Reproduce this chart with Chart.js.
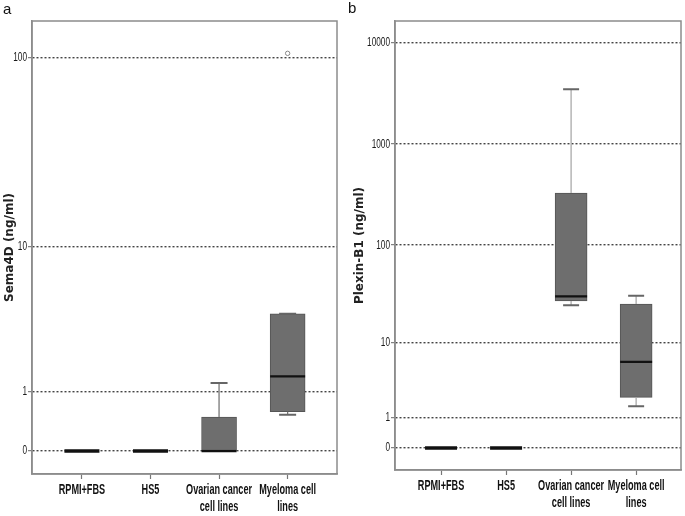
<!DOCTYPE html>
<html>
<head>
<meta charset="utf-8">
<title>Sema4D and Plexin-B1</title>
<script src="https://cdn.jsdelivr.net/npm/chart.js@4"></script>
<style>
  body { margin: 0; background: #fff; }
  #wrap { position: relative; width: 685px; height: 516px; overflow: hidden; }
  .panel { position: absolute; top: 0; height: 516px; }
  .tag { position: absolute; font: 15px "Liberation Sans", Arial, sans-serif; line-height: 15px; color: #111; }
</style>
</head>
<body>
<div id="wrap">
  <div class="panel" style="left:0;width:343px"><canvas id="chartA" width="343" height="516"></canvas></div>
  <div class="panel" style="left:343px;width:342px"><canvas id="chartB" width="342" height="516"></canvas></div>
  <div class="tag" style="left:3px;top:1px">a</div>
  <div class="tag" style="left:348px;top:0px">b</div>
</div>
<script>
const categories = [['RPMI+FBS'], ['HS5'], ['Ovarian cancer', 'cell lines'], ['Myeloma cell', 'lines']];

// panel a - Sema4D (ng/ml)
const semaLow      = [0, 0, 0,    0.53];
const semaQ1       = [0, 0, 0,    0.585];
const semaMedian   = [0, 0, 0,    1.40];
const semaQ3       = [0, 0, 0.49, 4.0];
const semaHigh     = [0, 0, 1.22, 4.0];
const semaOutliers = [[], [], [], [105]];
const semaTicks    = [0, 1, 10, 100];

// panel b - Plexin-B1 (ng/ml)
const plexLow      = [0, 0, 24.7, 1.58];
const plexQ1       = [0, 0, 27.3, 2.16];
const plexMedian   = [0, 0, 30.5, 6.1];
const plexQ3       = [0, 0, 329,  25.4];
const plexHigh     = [0, 0, 3490, 30.9];
const plexOutliers = [[], [], [], []];
const plexTicks    = [0, 1, 10, 100, 1000, 10000];

// axis is log10(value + 1) so that 0 can be shown
const tf = v => Math.log10(v + 1);

const sans = '"Liberation Sans", Arial, sans-serif';

// no narrow font installed, so tick labels are squeezed by hand
function squeezed(ctx, text, x, y, font, sx, align) {
  ctx.save();
  ctx.translate(x, y);
  ctx.scale(sx, 1);
  ctx.font = font;
  ctx.textAlign = align;
  ctx.textBaseline = 'middle';
  ctx.fillText(text, 0, 0);
  ctx.restore();
}

function boxParts(s) {
  return {
    id: 'boxParts',
    beforeDatasetsDraw(chart) {
      const { ctx, chartArea: a } = chart;
      ctx.save();
      ctx.strokeStyle = '#8c8c8c';
      ctx.lineWidth = 1.5;
      ctx.strokeRect(a.left, a.top, a.right - a.left, a.bottom - a.top);
      ctx.restore();
    },
    afterDatasetsDraw(chart) {
      const { ctx, scales: { x, y } } = chart;
      ctx.save();
      s.median.forEach((m, i) => {
        const cx = x.getPixelForValue(i);
        const yQ1 = y.getPixelForValue(tf(s.q1[i]));
        const yQ3 = y.getPixelForValue(tf(s.q3[i]));
        const yLo = y.getPixelForValue(tf(s.low[i]));
        const yHi = y.getPixelForValue(tf(s.high[i]));
        // whiskers
        ctx.strokeStyle = s.whisker;
        ctx.lineWidth = 1.3;
        ctx.beginPath();
        if (yHi < yQ3) { ctx.moveTo(cx, yQ3); ctx.lineTo(cx, yHi); }
        if (yLo > yQ1) { ctx.moveTo(cx, yQ1); ctx.lineTo(cx, yLo); }
        ctx.stroke();
        ctx.strokeStyle = '#666';
        ctx.lineWidth = 2;
        ctx.beginPath();
        if (s.high[i] > 0) { ctx.moveTo(cx - s.cap, yHi); ctx.lineTo(cx + s.cap, yHi); }
        if (s.low[i] > 0) { ctx.moveTo(cx - s.cap, yLo); ctx.lineTo(cx + s.cap, yLo); }
        ctx.stroke();
        // median
        const ym = y.getPixelForValue(tf(m));
        const zero = s.q3[i] === 0;
        ctx.strokeStyle = '#111';
        ctx.lineWidth = zero ? 3.5 : 2.2;
        ctx.beginPath();
        ctx.moveTo(cx - s.half, ym);
        ctx.lineTo(cx + s.half, ym);
        ctx.stroke();
        // outliers
        ctx.strokeStyle = '#888';
        ctx.lineWidth = 1;
        s.outliers[i].forEach(o => {
          ctx.beginPath();
          ctx.arc(cx, y.getPixelForValue(tf(o)), 2.2, 0, Math.PI * 2);
          ctx.stroke();
        });
      });
      ctx.restore();
    },
    afterDraw(chart) {
      const { ctx, chartArea: a, scales: { x, y } } = chart;
      ctx.save();
      ctx.fillStyle = '#111';
      categories.forEach((lines, i) => {
        const cx = x.getPixelForValue(i);
        lines.forEach((t, k) => squeezed(ctx, t, cx, a.bottom + 16 + k * 17, 'bold 14.5px ' + sans, 0.63, 'center'));
      });
      ctx.fillStyle = '#1a1a1a';
      s.ticks.forEach(v => {
        squeezed(ctx, String(v), a.left - 5, y.getPixelForValue(tf(v)), '12.5px ' + sans, 0.66, 'right');
      });
      ctx.restore();
    }
  };
}

function makePanel(id, p) {
  const boxes = categories.map((c, i) => ({ x: i, y: [tf(p.q1[i]), tf(p.q3[i])] }));
  new Chart(document.getElementById(id), {
    type: 'bar',
    data: {
      datasets: [{
        data: boxes,
        backgroundColor: '#6e6e6e',
        borderColor: '#555',
        borderWidth: 1,
        borderSkipped: false,
        barThickness: p.half * 2
      }]
    },
    options: {
      responsive: false,
      animation: false,
      events: [],
      layout: { padding: { top: p.top, right: p.right, left: 0, bottom: 0 } },
      plugins: { legend: { display: false }, tooltip: { enabled: false } },
      scales: {
        x: {
          type: 'linear',
          min: p.xMin, max: p.xMax,
          offset: false,
          afterBuildTicks: s => { s.ticks = categories.map((c, i) => ({ value: i })); },
          afterFit: s => { s.height = p.xHeight; },
          ticks: { display: false },
          grid: { drawOnChartArea: false, offset: false, tickLength: 5, tickColor: '#777', tickWidth: 1.2 },
          border: { color: '#8c8c8c', width: 1.5 }
        },
        y: {
          type: 'linear',
          min: p.yMin, max: p.yMax,
          afterBuildTicks: s => { s.ticks = p.ticks.map(v => ({ value: tf(v) })); },
          afterFit: s => { s.width = p.yWidth; },
          ticks: { display: false },
          grid: { color: '#444', lineWidth: 1.4, tickLength: 4, tickColor: '#666', tickWidth: 1 },
          border: { color: '#8c8c8c', width: 1.5, dash: [2, 2] },
          title: {
            display: true, text: p.title, color: '#222',
            font: { family: '"DejaVu Sans", sans-serif', size: 12, weight: 'bold' },
            padding: { top: p.titlePad, bottom: 0 }
          }
        }
      }
    },
    plugins: [boxParts(p)]
  });
}

makePanel('chartA', {
  title: 'Sema4D (ng/ml)',
  low: semaLow, q1: semaQ1, median: semaMedian, q3: semaQ3, high: semaHigh, outliers: semaOutliers,
  ticks: semaTicks,
  yMin: -0.117, yMax: 2.19, xMin: -0.728, xMax: 3.72,
  top: 21, right: 6, xHeight: 42, yWidth: 32, titlePad: 3,
  half: 17.5, cap: 8.5, whisker: '#777'
});

makePanel('chartB', {
  title: 'Plexin-B1 (ng/ml)',
  low: plexLow, q1: plexQ1, median: plexMedian, q3: plexQ3, high: plexHigh, outliers: plexOutliers,
  ticks: plexTicks,
  yMin: -0.217, yMax: 4.217, xMin: -0.708, xMax: 3.69,
  top: 21, right: 4, xHeight: 46, yWidth: 52, titlePad: 10,
  half: 16, cap: 8, whisker: '#aaa'
});
</script>
</body>
</html>
